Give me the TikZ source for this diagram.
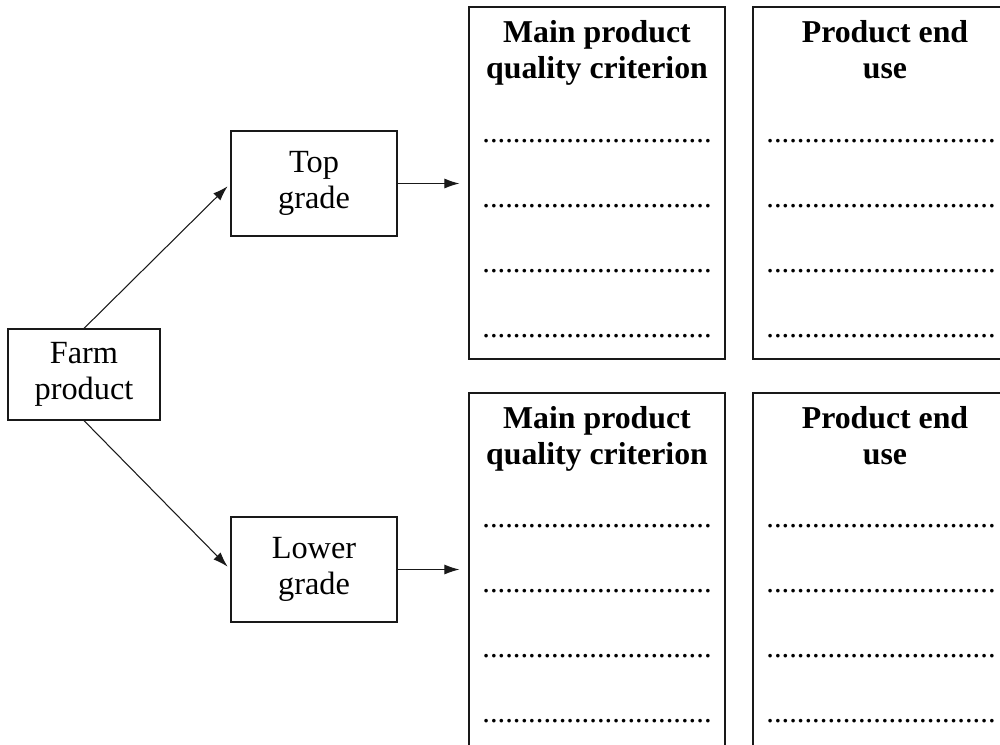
\documentclass[tikz,border=0pt]{standalone}
\usepackage{fontspec}
\setmainfont{Liberation Serif}
\usetikzlibrary{arrows.meta}
\tikzset{
  box/.style={draw=black!90, line width=0.7pt, rectangle, inner sep=0pt, align=center,
    font=\fontsize{18.4pt}{20.5pt}\selectfont},
  col/.style={draw=black!90, line width=0.7pt, rectangle, inner sep=0pt,
    minimum width=5.12cm},
  head/.style={anchor=base, inner sep=0pt, font=\fontsize{18.1pt}{20.5pt}\selectfont\bfseries},
  dotrow/.style={anchor=base, inner sep=0pt, font=\fontsize{17.4pt}{20pt}\selectfont},
  arr/.style={draw=black!90, line width=0.6pt, -{Latex[length=0.3cm, width=0.2cm]}},
}
\begin{document}
\begin{tikzpicture}[x=0.02cm, y=-0.02cm]
\useasboundingbox (0,0) rectangle (1000,744);
\clip (0,0) rectangle (1000,744);
% left boxes
\node[box, minimum width=3.04cm, minimum height=1.82cm] (farm) at (84,374.5) {Farm\\product};
\node[box, minimum width=3.32cm, minimum height=2.1cm] (top) at (314,183.5) {Top\\grade};
\node[box, minimum width=3.32cm, minimum height=2.1cm] (low) at (314,569.5) {Lower\\grade};
% columns
\node[col, minimum height=7.04cm] (mainA) at (597,183) {};
\node[col, minimum height=7.04cm] (endA) at (881,183) {};
\node[col, minimum height=7.24cm] (mainB) at (597,574) {};
\node[col, minimum height=7.24cm] (endB) at (881,574) {};
% headers
\node[head] (mainAh1) at (597,42) {Main product};
\node[head] (mainAh2) at (597,78) {quality criterion};
\node[head] (endAh1) at (885,42) {Product end};
\node[head] (endAh2) at (885,78) {use};
\node[head] (mainBh1) at (597,428) {Main product};
\node[head] (mainBh2) at (597,464) {quality criterion};
\node[head] (endBh1) at (885,428) {Product end};
\node[head] (endBh2) at (885,464) {use};
% dotted rows
\foreach \yy [count=\i] in {142,207,272,337,527,592,657,722}{
  \node[dotrow] (dm\i) at (597,\yy) {..............................};
  \node[dotrow] (de\i) at (881,\yy) {..............................};
}
% connectors
\draw[arr, shorten >=0.08cm] (farm.north) -- (top.west);
\draw[arr, shorten >=0.08cm] (farm.south) -- (low.west);
\draw[arr, shorten >=0.18cm] (top.east) -- (mainA.west |- top.east);
\draw[arr, shorten >=0.18cm] (low.east) -- (mainB.west |- low.east);
\end{tikzpicture}
\end{document}
